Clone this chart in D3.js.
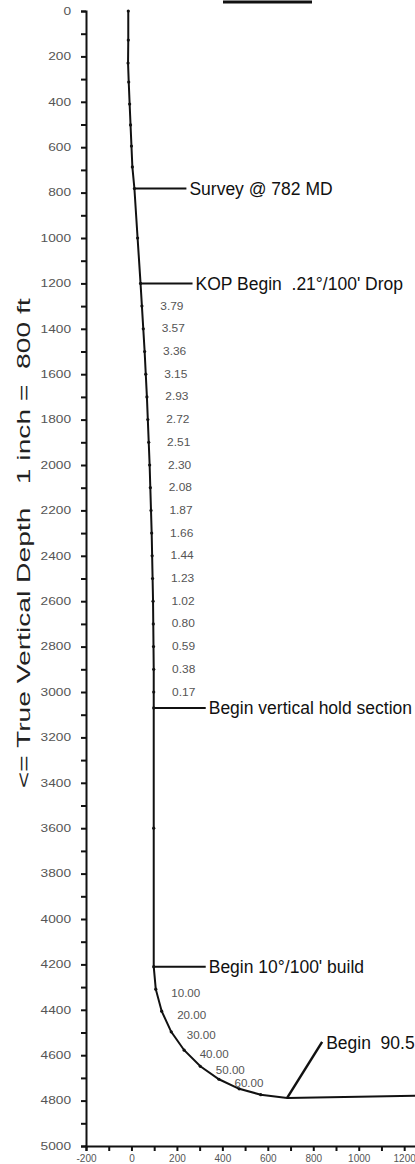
<!DOCTYPE html>
<html>
<head>
<meta charset="utf-8">
<script src="https://cdn.jsdelivr.net/npm/d3@7"></script>
<style>
  body { margin: 0; background: white; }
  svg { display: block; font-family: Arial, 'Liberation Sans', sans-serif; }
</style>
</head>
<body>
<svg id="well-plot"></svg>
<script>
// well path stations: true vertical depth (ft) and vertical section (ft)
const tvd = [0, 128, 229, 313, 410, 502, 595, 687, 782, 1000, 1200,
  1300, 1400, 1500, 1600, 1700, 1800, 1900, 2000, 2100, 2200, 2300, 2400,
  2500, 2600, 2700, 2800, 2900, 3000, 3070, 3600, 4210,
  4309, 4406, 4497, 4578, 4649, 4706, 4748, 4774, 4788, 4783, 4778]
const vs = [-14, -14, -15, -12, -8, -4, 0, 4, 13, 27, 40,
  46, 52, 58, 63, 68, 72, 76, 80, 83, 86, 89, 91,
  93, 95, 96, 97, 98, 98, 98, 98, 98,
  107, 133, 175, 232, 303, 385, 474, 569, 685, 1000, 1260]
// inclination printed next to the station (null = no label)
const inc = [null, null, null, null, null, null, null, null, null, null, null,
  '3.79', '3.57', '3.36', '3.15', '2.93', '2.72', '2.51', '2.30', '2.08', '1.87', '1.66', '1.44',
  '1.23', '1.02', '0.80', '0.59', '0.38', '0.17', null, null, null,
  '10.00', '20.00', '30.00', '40.00', '50.00', '60.00', null, null, null, null, null]

const yTicks = d3.range(0, 5001, 100)
const xTicks = d3.range(-200, 1301, 100)

// callouts: station depth, text
const noteTvd = [782, 1200, 3070, 4210]
const noteVs = [13, 40, 98, 98]
const noteText = ['Survey @ 782 MD', 'KOP Begin  .21\u00b0/100\' Drop', 'Begin vertical hold section', 'Begin 10\u00b0/100\' build']
const lateralTvd = 4788, lateralVs = 685, lateralText = 'Begin  90.5'

createWellPlot(d3.select('svg#well-plot'))

function createWellPlot(svg) {
  const [sizeX, sizeY] = [415, 1164]
  svg.attr('width', sizeX).attr('height', sizeY)

  const x = d3.scaleLinear().domain([-200, 1340]).range([86, 436])
  const y = d3.scaleLinear().domain([0, 5000]).range([11, 1146])

  // scrap of the title underline cut by the page edge
  svg.append('line')
    .attr('x1', 223).attr('x2', 312).attr('y1', 2).attr('y2', 2)
    .attr('stroke', '#111').attr('stroke-width', 3)

  // axes
  const yAxis = svg.append('g')
    .attr('transform', `translate(${x(-200)},0)`)
    .call(d3.axisLeft(y).tickValues(yTicks).tickSize(5).tickPadding(10)
      .tickFormat(d => d % 200 ? '' : d))
  const xAxis = svg.append('g')
    .attr('transform', `translate(0,${y(5000)})`)
    .call(d3.axisBottom(x).tickValues(xTicks).tickSize(5).tickPadding(4)
      .tickFormat(d => d % 200 ? '' : d))

  for (const ax of [yAxis, xAxis]) {
    ax.select('.domain').attr('stroke', '#111').attr('stroke-width', 2)
    ax.selectAll('.tick line').attr('stroke', '#111').attr('stroke-width', 2)
    ax.selectAll('.tick text').attr('fill', '#555').style('font-size', '10px')
  }
  yAxis.selectAll('.tick text')
    .attr('textLength', function () { return this.textContent.length * 7.6 })
    .attr('lengthAdjust', 'spacingAndGlyphs')

  svg.append('text')
    .attr('transform', `translate(30,${(y(1250) + y(3440)) / 2}) rotate(-90)`)
    .attr('text-anchor', 'middle')
    .attr('fill', '#222')
    .attr('textLength', 490)
    .attr('lengthAdjust', 'spacingAndGlyphs')
    .style('font-size', '18px')
    .style('white-space', 'pre')
    .text('<= True Vertical Depth   1 inch =  800 ft')

  // well path
  const stations = d3.range(tvd.length).map(i => ({ tvd: tvd[i], vs: vs[i], inc: inc[i] }))
  const line = d3.line().x(d => x(d.vs)).y(d => y(d.tvd))
  svg.append('path')
    .datum(stations)
    .attr('fill', 'none')
    .attr('stroke', '#111')
    .attr('stroke-width', 2)
    .attr('d', line)

  svg.selectAll('.station')
    .data(stations.filter(d => d.tvd < 4780 && d.vs < 700))
    .enter()
    .append('circle')
    .attr('cx', d => x(d.vs))
    .attr('cy', d => y(d.tvd))
    .attr('r', 1.6)
    .attr('fill', '#111')

  // inclination labels
  svg.selectAll('.inc-label')
    .data(stations.filter(d => d.inc !== null))
    .enter()
    .append('text')
    .attr('x', d => x(d.vs) + 30)
    .attr('y', d => y(d.tvd) + (d.tvd > 4200 ? 4 : 0))
    .attr('dy', '0.35em')
    .attr('text-anchor', 'middle')
    .attr('fill', '#555')
    .style('font-size', '10px')
    .attr('textLength', d => d.inc.length * 5.8)
    .attr('lengthAdjust', 'spacingAndGlyphs')
    .text(d => d.inc)

  // callouts
  const notes = d3.range(noteTvd.length).map(i => ({ tvd: noteTvd[i], vs: noteVs[i], text: noteText[i] }))
  const LEADER = 52
  const note = svg.selectAll('.note').data(notes).enter().append('g')
  note.append('line')
    .attr('x1', d => x(d.vs)).attr('x2', d => x(d.vs) + LEADER)
    .attr('y1', d => y(d.tvd)).attr('y2', d => y(d.tvd))
    .attr('stroke', '#111').attr('stroke-width', 2)
  note.append('text')
    .attr('x', d => x(d.vs) + LEADER + 3)
    .attr('y', d => y(d.tvd))
    .attr('dy', '0.35em')
    .attr('fill', '#111')
    .style('font-size', '17.5px')
    .style('white-space', 'pre')
    .text(d => d.text)

  const lx = x(lateralVs), ly = y(lateralTvd)
  svg.append('line')
    .attr('x1', lx).attr('y1', ly).attr('x2', lx + 35).attr('y2', ly - 56)
    .attr('stroke', '#111').attr('stroke-width', 2.5)
  svg.append('text')
    .attr('x', lx + 39).attr('y', ly - 55)
    .attr('dy', '0.35em')
    .attr('fill', '#111')
    .style('font-size', '17.5px')
    .style('white-space', 'pre')
    .text(lateralText)
}
</script>
</body>
</html>
